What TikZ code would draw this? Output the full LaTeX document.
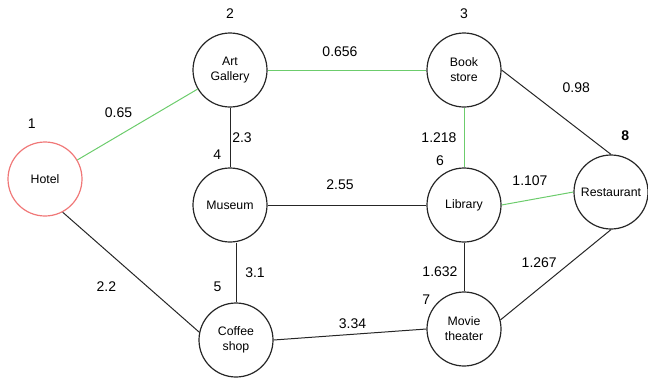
\documentclass[tikz,border=0pt]{standalone}
\usepackage{fontspec}
\setmainfont{Liberation Sans}
\usepackage{tikz}
\usetikzlibrary{positioning}
\definecolor{edgegreen}{RGB}{108,204,108}
\definecolor{hotelred}{RGB}{240,120,120}

\begin{document}
\begin{tikzpicture}[x=1pt, y=-1pt, node distance=100pt, on grid,
  main node/.style={circle,draw=black!85,line width=1.2pt,minimum size=74pt,inner sep=0pt,
    align=center,font=\fontsize{12.3}{15}\selectfont},
  hotel node/.style={draw=hotelred},
  num/.style={font=\fontsize{14}{16}\selectfont},
  weight/.style={font=\fontsize{14}{16}\selectfont},
  plain edge/.style={draw=black!85,line width=1pt},
  green edge/.style={draw=edgegreen,line width=1pt}]

\useasboundingbox (0,0) rectangle (648,378);

\node[main node, hotel node, label={[num,label distance=10.3pt,xshift=5pt]103.5:1}] (H) at (45,179) {Hotel};
\node[main node, label={[num,label distance=10pt]90:2}] (G) [above right=109pt and 185pt of H] {Art\\Gallery};
\node[main node, label={[num,label distance=10pt]90:3}] (B) [right=234pt of G] {Book\\store};
\node[main node, label={[num,label distance=5.4pt,xshift=5pt]104.9:4}] (M) [below=135pt of G] {Museum};
\node[main node, label={[num,label distance=3.4pt,xshift=4pt]120.2:6}] (L) [right=234pt of M] {Library};
\node[main node, label={[num,font=\fontsize{14}{16}\selectfont\bfseries,label distance=11.3pt,xshift=-5pt]76.7:8}] (R) [above right=13pt and 147pt of L] {Restaurant};
\node[main node, label={[num,label distance=11.7pt,xshift=5pt,yshift=-2pt]109.4:5}] (C) [below right=135pt and 6pt of M] {Coffee\\shop};
\node[main node, label={[num,label distance=2pt,xshift=1pt,yshift=-3pt]142.6:7}] (T) [below=124pt of L] {Movie\\theater};

% green edges
\draw[green edge] (H) -- node[weight, shift={(-19,-11.5)}] {0.65} (G);
\draw[green edge] (G.east) -- node[weight, shift={(-7,-18)}] {0.656} (B.west);
\draw[green edge] (B) -- node[weight, shift={(-25,0)}] {1.218} (L);
\draw[green edge] (L.east) -- node[weight, shift={(-7.5,-17.5)}] {1.107} (R.west);

% black edges
\draw[plain edge] (B.east) -- node[weight, shift={(20,-24.5)}] {0.98} (R.north);
\draw[plain edge] (G) -- node[weight, shift={(12,0)}] {2.3} (M);
\draw[plain edge] (M) -- node[weight, shift={(-7,-20)}] {2.55} (L);
\draw[plain edge] (M.south -| C.north) -- node[weight, shift={(19,0)}] {3.1} (C.north);
\draw[plain edge] (L) -- node[weight, shift={(-24,5)}] {1.632} (T);
\draw[plain edge] (T.14) -- node[weight, shift={(-16.5,-12.5)}] {1.267} (R.south);
\draw[plain edge] (H.-62) -- node[weight, shift={(-24.5,14)}] {2.2} (C.168);
\draw[plain edge] (C.east) -- node[weight, shift={(2.5,-11)}] {3.34} (T.west);

\end{tikzpicture}
\end{document}
